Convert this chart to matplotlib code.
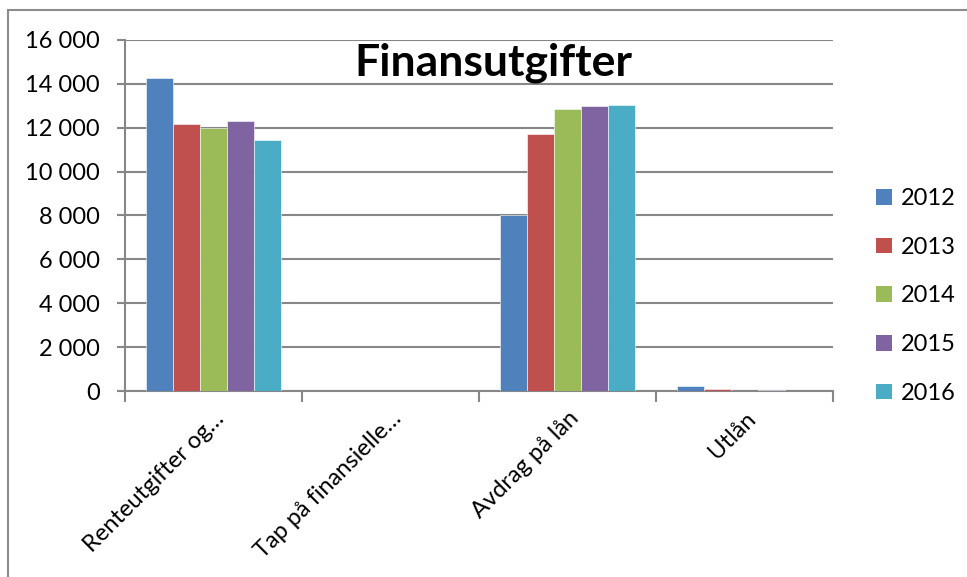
import numpy as np
from matplotlib import pyplot as plt
from matplotlib.patches import Rectangle, Patch

categories = ["Renteutgifter og…", "Tap på finansielle…", "Avdrag på lån", "Utlån"]
years = ["2012", "2013", "2014", "2015", "2016"]
values = {
    "2012": [14280, 0, 8000, 250],
    "2013": [12190, 0, 11710, 100],
    "2014": [12010, 0, 12870, 20],
    "2015": [12320, 0, 12990, 40],
    "2016": [11440, 0, 13040, 10],
}
y_ticks = [0, 2000, 4000, 6000, 8000, 10000, 12000, 14000, 16000]
y_tick_labels = ["0", "2 000", "4 000", "6 000", "8 000", "10 000", "12 000", "14 000", "16 000"]

colors = ["#4F81BD", "#C0504D", "#9BBB59", "#8064A2", "#4BACC6"]
grid_color = "#878787"

plt.rcParams['font.family'] = ['Lato', 'DejaVu Sans']

fig = plt.figure(figsize=(9.67, 5.77), dpi=100)
ax = fig.add_axes([125 / 967, 1 - 391 / 577, (833 - 125) / 967, (391 - 40) / 577])

x = np.arange(len(categories))
bar_w = 0.153
for i, year in enumerate(years):
    ax.bar(x + (i - 2) * bar_w, values[year], width=bar_w, color=colors[i],
           edgecolor="white", linewidth=0.4, zorder=3)

ax.set_xlim(-0.5, len(categories) - 0.5)
ax.set_ylim(0, 16000)
ax.set_yticks(y_ticks)
ax.set_yticklabels(y_tick_labels, fontsize=17)
ax.yaxis.grid(True, color=grid_color, linewidth=1.5, zorder=0)

ax.set_xticks(x)
ax.set_xticklabels(categories, fontsize=17, rotation=45, ha="right", va="top",
                   rotation_mode="anchor")
ax.tick_params(axis="x", length=0, pad=12)
ax.set_xticks(np.arange(len(categories) + 1) - 0.5, minor=True)
ax.tick_params(axis="x", which="minor", length=8, width=1.5, color=grid_color, direction="out")
ax.tick_params(axis="y", length=6, width=1.5, color=grid_color, pad=12)

for side in ["top", "right"]:
    ax.spines[side].set_visible(False)
for side in ["left", "bottom"]:
    ax.spines[side].set_color(grid_color)
    ax.spines[side].set_linewidth(1.5)

ax.text(0.5205, 0.935, "Finansutgifter", transform=ax.transAxes, ha="center", va="center",
        fontsize=32, fontweight="bold", zorder=5)

handles = [Patch(facecolor=c, edgecolor="none") for c in colors]
fig.legend(handles, years, loc="center left", bbox_to_anchor=(855 / 967, 1 - 296 / 577),
           frameon=False, fontsize=17, handlelength=0.65, handleheight=0.65,
           handletextpad=0.4, labelspacing=1.17)

fig.patches.append(Rectangle((8 / 967, -0.2), 1.2, 1.2 - 10 / 577, transform=fig.transFigure,
                             fill=False, edgecolor="#8c8c8c", linewidth=1.5))

fig.savefig("out.png", dpi=100, facecolor="white")
